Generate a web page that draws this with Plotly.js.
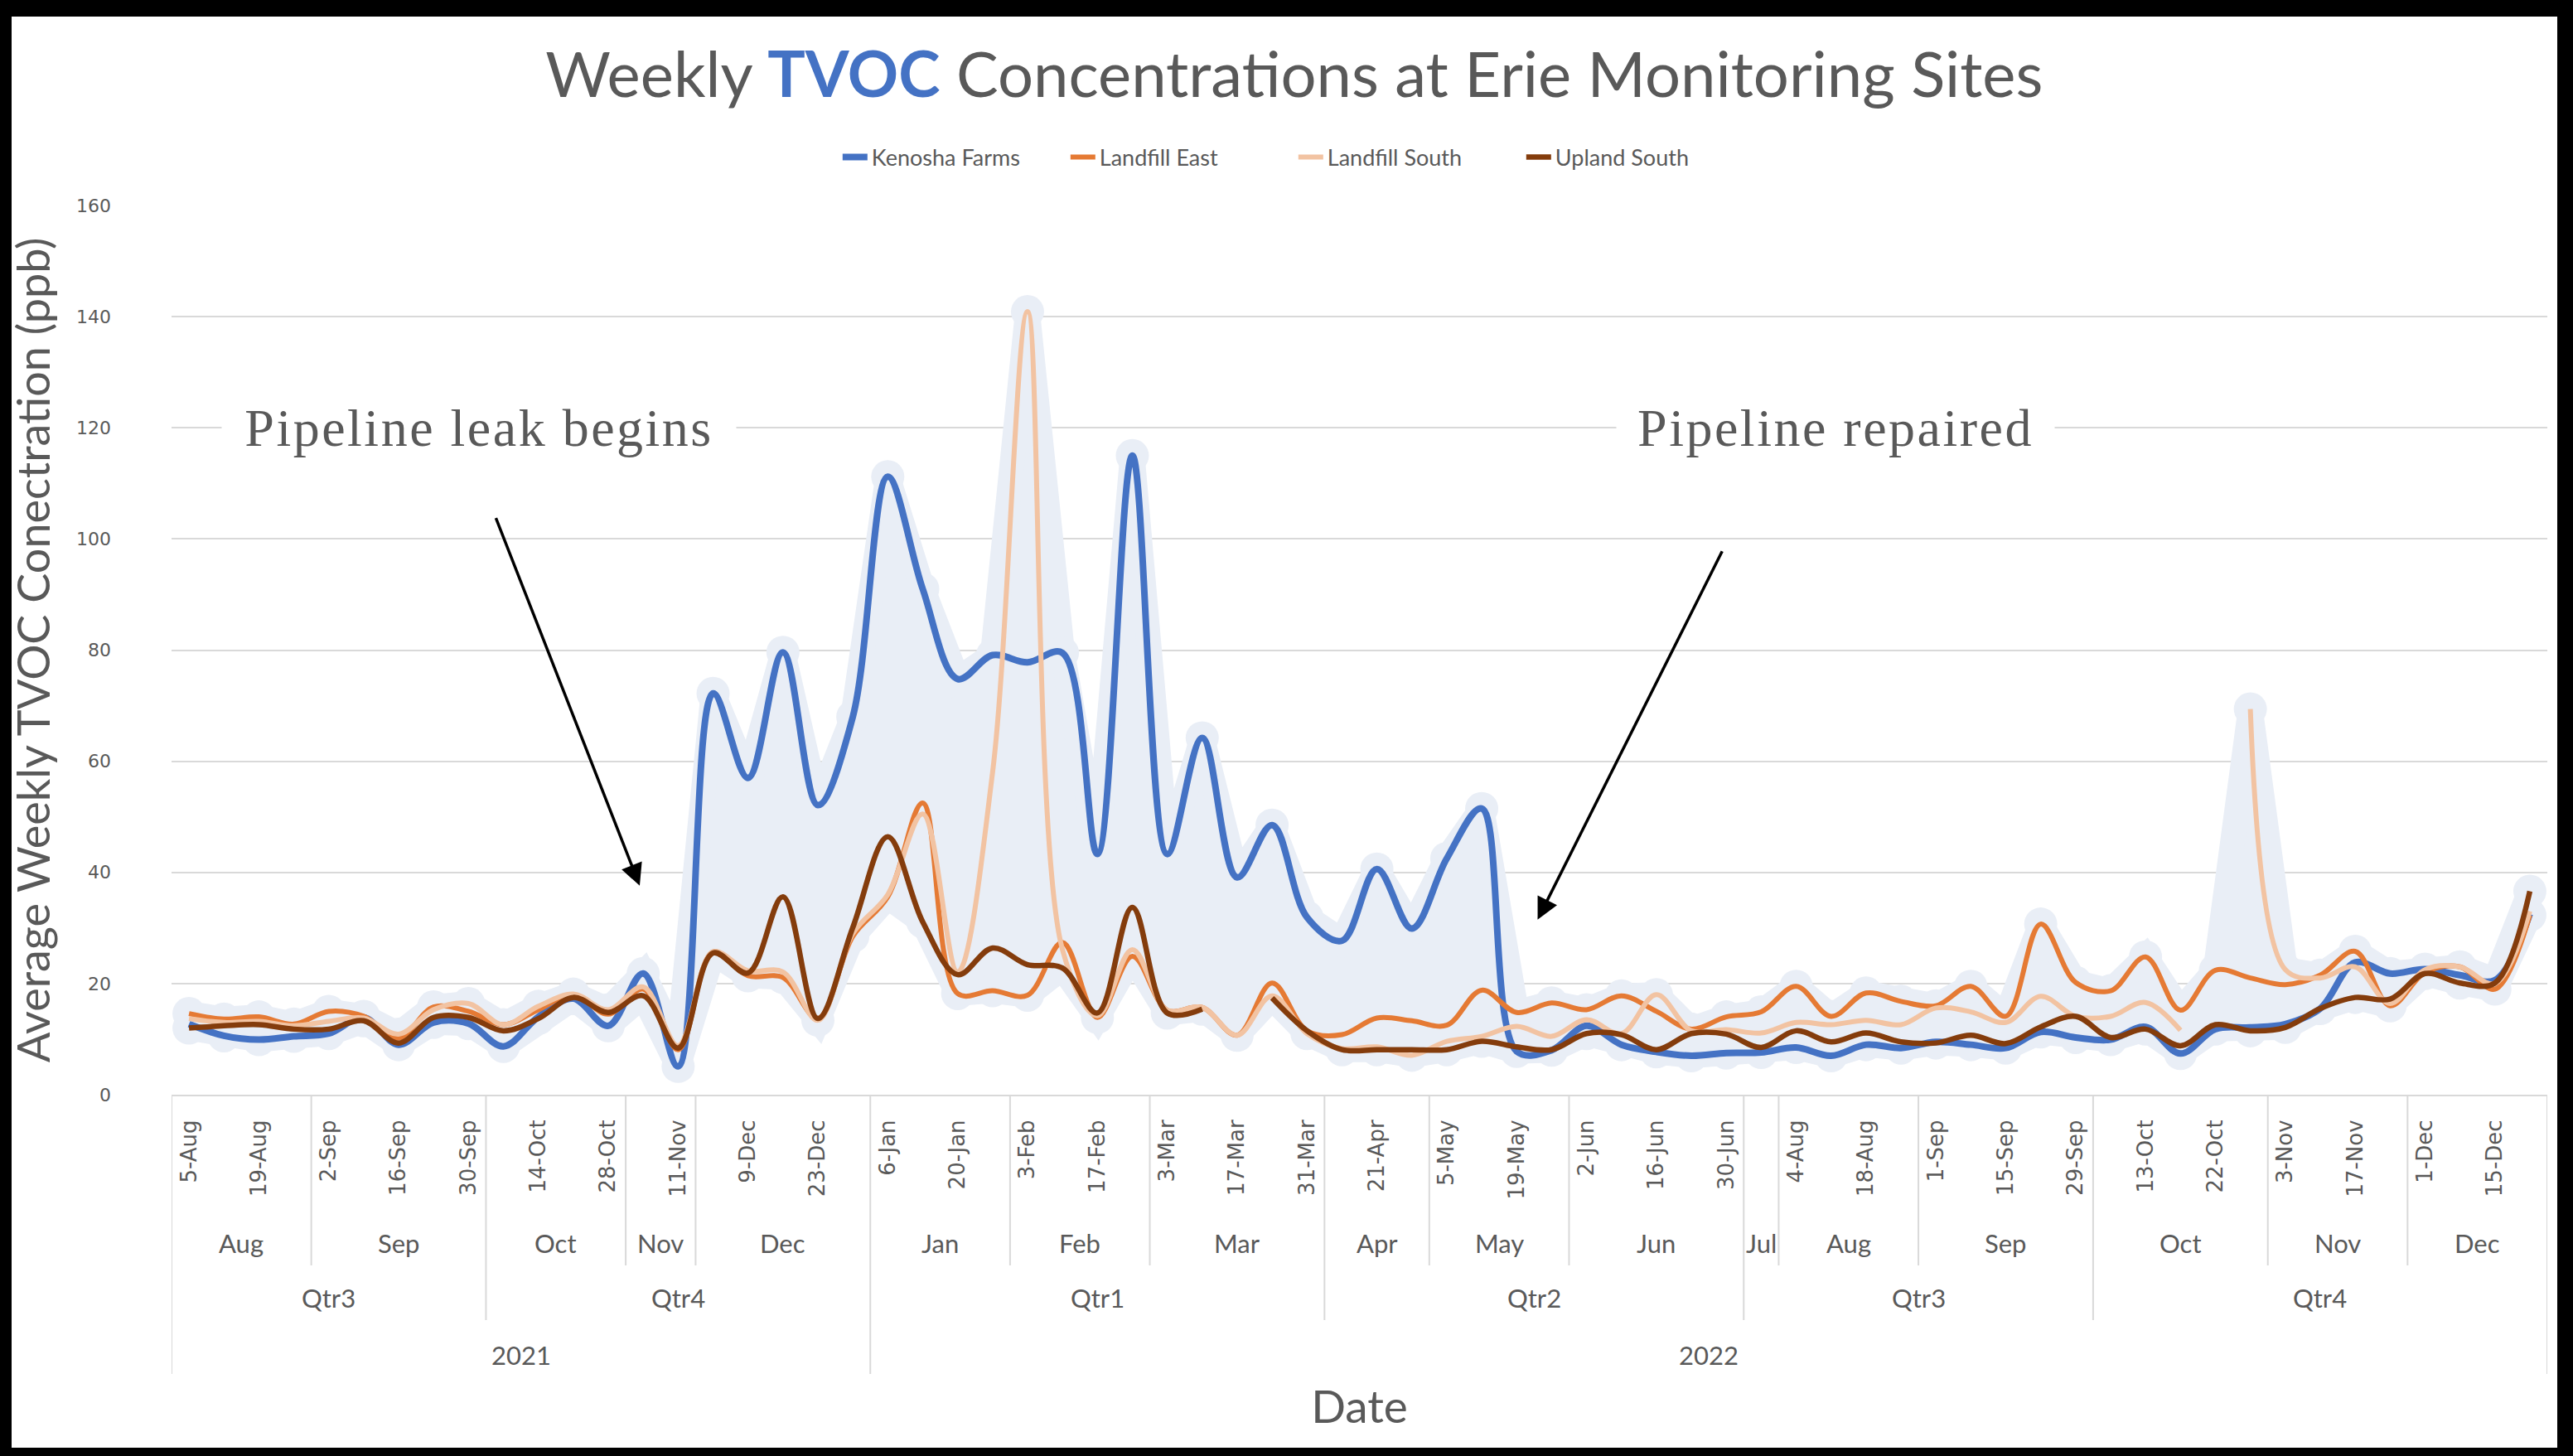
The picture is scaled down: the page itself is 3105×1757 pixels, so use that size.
<!DOCTYPE html>
<html>
<head>
<meta charset="utf-8">
<script src="https://cdn.plot.ly/plotly-3.0.1.min.js"></script>
<style>
html,body{margin:0;padding:0;background:#fff;}
#wrap{position:relative;width:3105px;height:1757px;overflow:hidden;background:#fff;}
#chart{position:absolute;left:0;top:0;width:3105px;height:1757px;}
.frame{position:absolute;background:#000;z-index:5;}
</style>
</head>
<body>
<div id="wrap">
  <div id="chart"></div>
  <div class="frame" style="left:0;top:0;width:3105px;height:20px;"></div>
  <div class="frame" style="left:0;top:1747px;width:3105px;height:10px;"></div>
  <div class="frame" style="left:0;top:0;width:14px;height:1757px;"></div>
  <div class="frame" style="left:3086px;top:0;width:19px;height:1757px;"></div>
</div>
<script>
// ---------------- DATA ----------------
const dates = [
 "5-Aug","12-Aug","19-Aug","26-Aug","2-Sep","9-Sep","16-Sep","23-Sep","30-Sep",
 "7-Oct","14-Oct","21-Oct","28-Oct","4-Nov","11-Nov",
 "2-Dec","9-Dec","16-Dec","23-Dec","30-Dec",
 "6-Jan","13-Jan","20-Jan","27-Jan","3-Feb","10-Feb","17-Feb","24-Feb",
 "3-Mar","10-Mar","17-Mar","24-Mar","31-Mar","14-Apr","21-Apr","28-Apr",
 "5-May","12-May","19-May","26-May","2-Jun","9-Jun","16-Jun","23-Jun","30-Jun",
 "7-Jul","4-Aug","11-Aug","18-Aug","25-Aug","1-Sep","8-Sep","15-Sep","22-Sep","29-Sep",
 "6-Oct","13-Oct","20-Oct","22-Oct","27-Oct","3-Nov","10-Nov","17-Nov","24-Nov",
 "1-Dec","8-Dec","15-Dec","22-Dec"
];
const firstYear = 2021;

const kenoshaFarms = [
 12.7,10.6,9.9,10.5,11.0,13.9,9.0,13.0,12.8,
 8.7,14.0,17.3,12.4,21.8,5.1,
 72.2,57.0,79.6,52.1,68.0,
 111.2,91.0,74.8,79.1,77.8,79.5,43.3,115.0,
 43.3,64.2,39.1,48.5,31.9,27.7,40.6,29.9,
 42.5,51.5,7.8,8.0,12.4,9.0,7.7,7.0,7.5,
 7.6,8.5,7.0,9.0,8.4,9.5,9.0,8.4,11.3,10.3,
 9.9,12.2,7.4,11.8,12.1,12.7,15.5,23.8,21.8,
 22.6,21.5,20.6,32.5
];
const landfillEast = [
 14.6,13.6,14.0,12.7,15.0,14.1,10.2,15.8,15.0,
 12.6,15.3,18.0,14.5,19.0,8.1,
 25.7,21.4,21.1,13.7,28.5,
 35.6,52.5,18.2,18.7,17.9,27.4,13.9,24.9,
 15.2,15.7,10.7,20.1,11.5,10.8,13.8,13.3,
 12.5,18.8,14.8,16.5,15.3,17.8,15.0,11.8,14.0,
 14.9,19.5,14.1,18.3,16.8,16.0,19.5,14.1,30.7,20.2,
 18.7,24.8,15.2,22.4,21.0,19.8,21.5,25.8,16.0,
 22.0,23.0,19.0,32.3
];
const landfillSouth = [
 13.7,13.0,13.2,12.4,13.2,13.8,10.9,15.3,16.4,
 12.6,15.9,18.1,15.3,19.4,8.8,
 25.7,22.3,22.1,13.4,29.0,
 36.0,50.5,22.1,58.0,140.9,26.1,14.2,26.1,
 15.2,15.7,10.7,17.8,11.0,8.3,8.6,7.1,
 9.6,10.5,12.3,10.5,13.5,11.0,18.0,11.5,11.7,
 11.1,13.0,12.6,13.4,12.6,15.6,14.9,13.0,17.7,14.1,
 14.1,16.6,11.6,null,69.4,22.5,21.0,23.0,16.4,
 22.5,23.0,20.0,33.0
];
const uplandSouth = [
 12.0,12.4,12.6,11.8,11.8,13.3,9.3,13.9,13.9,
 11.5,13.7,17.5,14.8,17.8,8.4,
 25.5,21.9,35.6,13.7,30.1,
 46.4,31.1,21.6,26.4,23.4,22.8,14.7,33.7,
 14.7,15.4,null,17.4,11.5,8.1,8.1,8.1,
 8.1,9.6,8.6,8.1,11.0,10.8,8.1,11.0,10.9,
 8.5,11.5,9.5,11.1,9.5,9.3,10.7,9.2,12.2,14.1,
 10.3,11.8,8.8,12.6,11.5,12.1,15.5,17.5,17.2,
 21.8,20.1,20.1,36.6
];
const seriesNames = ["Kenosha Farms","Landfill East","Landfill South","Upland South"];
const seriesColors = ["#4472C4","#E57A34","#F2C3A2","#843C0C"];
const seriesWidths = [8,6,6,6.5];
const yTickValues = [0,20,40,60,80,100,120,140,160];
const monthNames = ["Jan","Feb","Mar","Apr","May","Jun","Jul","Aug","Sep","Oct","Nov","Dec"];

// ---------------- DERIVED ----------------
const idx = dates.map((d,i)=>i);
const monthOf = d => d.split('-')[1];
const years = [];
{ let y = firstYear;
  dates.forEach((d,i)=>{ if(i>0 && monthOf(dates[i-1])==='Dec' && monthOf(d)==='Jan') y++; years.push(y); }); }
const quarterOf = m => 'Qtr' + (Math.floor(monthNames.indexOf(m)/3)+1);
const monthKey = i => years[i] + '-' + monthOf(dates[i]);
const quarterKey = i => years[i] + '-' + quarterOf(monthOf(dates[i]));
const yearKey = i => String(years[i]);

function groups(keyFn, labelFn){
  const out = [];
  idx.forEach(i=>{
    const k = keyFn(i);
    if(out.length && out[out.length-1].key===k) out[out.length-1].end = i;
    else out.push({key:k, label:labelFn(i), start:i, end:i});
  });
  return out;
}
const monthGroups = groups(monthKey, i=>monthOf(dates[i]));
const quarterGroups = groups(quarterKey, i=>quarterOf(monthOf(dates[i])));
const yearGroups = groups(yearKey, i=>String(years[i]));

const allSeries = [kenoshaFarms, landfillEast, landfillSouth, uplandSouth];
const bandHigh = idx.map(i=>Math.max(...allSeries.map(s=>s[i]).filter(v=>v!==null)));
const bandLow  = idx.map(i=>Math.min(...allSeries.map(s=>s[i]).filter(v=>v!==null)));

// ---------------- TRACES ----------------
const halo = '#E9EEF6';
const traces = [
  {x:idx, y:bandLow, type:'scatter', mode:'lines+markers', line:{color:halo, width:30}, marker:{color:halo, size:40},
   showlegend:false, hoverinfo:'skip'},
  {x:idx, y:bandHigh, type:'scatter', mode:'lines+markers', fill:'tonexty', fillcolor:halo,
   line:{color:halo, width:30}, marker:{color:halo, size:40}, showlegend:false, hoverinfo:'skip'}
];
allSeries.forEach((s,k)=>{
  traces.push({x:idx, y:s, type:'scatter', mode:'lines', name:seriesNames[k],
    line:{color:seriesColors[k], width:seriesWidths[k], shape:'spline', smoothing:1}, connectgaps:false});
});

// ---------------- AXIS DECORATION ----------------
const plotTop = 248, plotBottom = 1321, plotH = plotBottom - plotTop;
const py = px => -(px - plotBottom)/plotH;   // pixel row -> paper y
const gridCol = '#D9D9D9', textCol = '#595959';

const shapes = [];
const addSep = (x, bottomPx) => shapes.push({type:'line', xref:'x', yref:'paper', x0:x, x1:x, y0:0, y1:py(bottomPx),
  line:{color:gridCol, width:2}, layer:'above'});
addSep(-0.5, 1658);
addSep(dates.length-0.5, 1658);
monthGroups.slice(1).forEach(g=>{
  const i = g.start;
  let b = 1527;
  if(years[i]!==years[i-1]) b = 1658;
  else if(quarterKey(i)!==quarterKey(i-1)) b = 1593;
  addSep(i-0.5, b);
});

const annotations = [];
const lab = (g, ypx) => annotations.push({xref:'x', yref:'paper', x:(g.start+g.end)/2, y:py(ypx),
  text:g.label, showarrow:false, yanchor:'middle', xanchor:'center',
  font:{family:'Lato', size:31, color:textCol}});
monthGroups.forEach(g=>lab(g,1500));
quarterGroups.forEach(g=>lab(g,1566));
yearGroups.forEach(g=>lab(g,1635));

annotations.push({xref:'x', yref:'y', x:8.3, y:120, text:'Pipeline leak begins', showarrow:false,
  font:{family:'Liberation Serif', size:64, color:textCol}, bgcolor:'#fff', width:600, borderpad:10,
  xanchor:'center', yanchor:'middle'});
annotations.push({xref:'x', yref:'y', x:47.13, y:120, text:'Pipeline repaired', showarrow:false,
  font:{family:'Liberation Serif', size:64, color:textCol}, bgcolor:'#fff', width:508, borderpad:10,
  xanchor:'center', yanchor:'middle'});
annotations.push({xref:'x', yref:'y', x:12.9, y:37.6, axref:'x', ayref:'y', ax:8.77, ay:104, text:'',
  showarrow:true, arrowhead:2, arrowsize:1.5, arrowwidth:3.5, arrowcolor:'#000', standoff:0});
annotations.push({xref:'x', yref:'y', x:38.6, y:31.5, axref:'x', ayref:'y', ax:43.9, ay:98, text:'',
  showarrow:true, arrowhead:2, arrowsize:1.5, arrowwidth:3.5, arrowcolor:'#000', standoff:0});

const tickvals = idx.filter(i=>i%2===0);
const ticktext = tickvals.map(i=>dates[i]);

const layout = {
  width:3105, height:1757,
  margin:{l:207, r:31, t:plotTop, b:1757-plotBottom, autoexpand:false},
  paper_bgcolor:'#fff', plot_bgcolor:'#fff',
  title:{text:'Weekly <b><span style="color:#4472C4">TVOC</span></b> Concentrations at Erie Monitoring Sites',
    font:{family:'Lato', size:76, color:textCol}, xref:'container', x:0.503, xanchor:'center',
    yref:'container', y:1-90/1757, yanchor:'middle'},
  showlegend:true,
  legend:{orientation:'h', xref:'container', x:0.503, xanchor:'center', yref:'container', y:1-190/1757, yanchor:'middle',
    font:{family:'Lato', size:27, color:textCol}, entrywidthmode:'pixels', entrywidth:230,
    traceorder:'normal', bgcolor:'rgba(0,0,0,0)'},
  xaxis:{range:[-0.5, dates.length-0.5], tickmode:'array', tickvals:tickvals, ticktext:ticktext, tickangle:-90,
    showgrid:false, zeroline:false, showline:true, linecolor:gridCol, linewidth:2, ticks:'',
    tickfont:{family:'DejaVu Sans', size:26, color:textCol}, ticklabelstandoff:18, fixedrange:true,
    title:{text:'Date', font:{family:'Lato', size:55, color:textCol}, standoff:232}},
  yaxis:{range:[0,160], tickmode:'array', tickvals:yTickValues, showgrid:true, gridcolor:gridCol, gridwidth:2,
    zeroline:false, showline:false, ticks:'', tickfont:{family:'DejaVu Sans', size:22, color:textCol},
    ticklabelstandoff:72, fixedrange:true,
    title:{text:'Average Weekly TVOC Conectration (ppb)', font:{family:'Lato', size:54, color:textCol}, standoff:14}},
  shapes:shapes, annotations:annotations, hovermode:false
};

Plotly.newPlot('chart', traces, layout, {displayModeBar:false, staticPlot:true}).then(()=>{
  document.querySelectorAll('#chart .annotation-text').forEach(t=>{
    if(t.textContent.indexOf('Pipeline')===0) t.style.letterSpacing = '2.5px';
  });
});
</script>
</body>
</html>
